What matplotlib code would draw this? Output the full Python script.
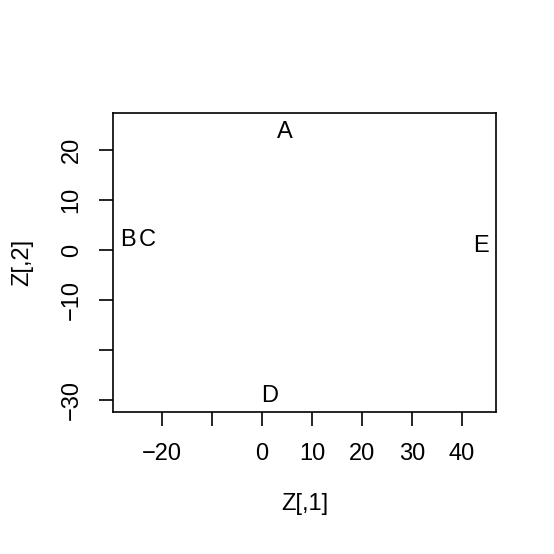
import matplotlib
matplotlib.use("Agg")
import matplotlib.pyplot as plt

# point labels and coordinates (Z[,1], Z[,2])
labels = ["A", "B", "C", "D", "E"]
z1 = [4.6, -26.9, -22.9, 1.5, 43.8]
z2 = [23.7, 2.1, 2.1, -29.1, 0.9]

xticks = [-20, -10, 0, 10, 20, 30, 40]
xticklabels = ["\u221220", "", "0", "10", "20", "30", "40"]
yticks = [-30, -20, -10, 0, 10, 20]
yticklabels = ["\u221230", "", "\u221210", "0", "10", "20"]

plt.rcParams['font.family'] = ['Liberation Sans', 'DejaVu Sans']
fs = 17

fig = plt.figure(figsize=(5.54, 5.54), dpi=100)
ax = fig.add_axes([0.2045, 0.2558, 0.6903, 0.5397])

for lab, x, y in zip(labels, z1, z2):
    ax.text(x, y, lab, ha='center', va='center', fontsize=fs)

ax.set_xlim(-29.75, 46.75)
ax.set_ylim(-32.45, 27.35)

ax.set_xticks(xticks)
ax.set_xticklabels(xticklabels, fontsize=fs)
ax.set_yticks(yticks)
ax.set_yticklabels(yticklabels, fontsize=fs, rotation=90, va='center')
ax.tick_params(direction='out', length=10, width=1.2, pad=12)

for s in ax.spines.values():
    s.set_linewidth(1.2)

ax.set_xlabel("Z[,1]", fontsize=fs, labelpad=20)
ax.set_ylabel("Z[,2]", fontsize=fs, labelpad=20)

fig.savefig("out.png", dpi=100, facecolor='white')
